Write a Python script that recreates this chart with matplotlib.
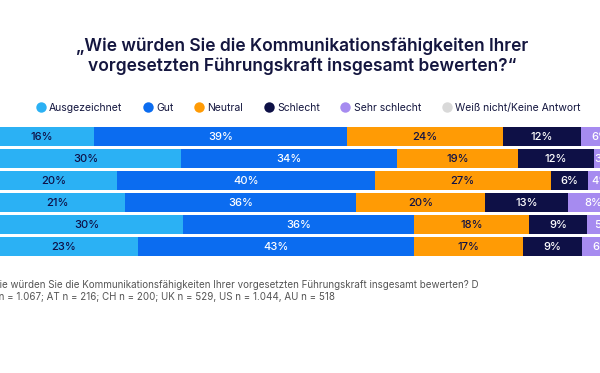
import matplotlib.pyplot as plt
from matplotlib.lines import Line2D

categories = ['Ausgezeichnet', 'Gut', 'Neutral', 'Schlecht', 'Sehr schlecht', 'Weiß nicht/Keine Antwort']
countries = ['DE', 'AT', 'CH', 'UK', 'US', 'AU']
# shares in % (labels show the rounded values)
ausgezeichnet = [16.2, 29.7, 19.8, 21.0, 30.0, 23.0]
gut = [39.3, 33.6, 40.0, 35.9, 35.9, 42.9]
neutral = [24.3, 18.8, 27.4, 20.1, 18.0, 17.0]
schlecht = [12.1, 11.8, 5.8, 12.9, 8.9, 9.2]
sehr_schlecht = [6.0, 3.0, 4.0, 7.8, 5.0, 6.0]
weiss_nicht = [100 - sum(r) for r in zip(ausgezeichnet, gut, neutral, schlecht, sehr_schlecht)]

series = [ausgezeichnet, gut, neutral, schlecht, sehr_schlecht, weiss_nicht]
colors = ['#2bb1f4', '#0b6cf0', '#ff9b05', '#0e1046', '#a68bf0', '#d9d9d9']
text_colors = ['#0e1046', 'white', '#0e1046', 'white', 'white', '#0e1046']

title = '„Wie würden Sie die Kommunikationsfähigkeiten Ihrer\nvorgesetzten Führungskraft insgesamt bewerten?“'
footer = ('Wie würden Sie die Kommunikationsfähigkeiten Ihrer vorgesetzten Führungskraft insgesamt bewerten? D\n'
          'E n = 1.067; AT n = 216; CH n = 200; UK n = 529, US n = 1.044, AU n = 518')

plt.rcParams['font.family'] = ['Inter', 'DejaVu Sans']

fig = plt.figure(figsize=(6, 3.73), dpi=100)
# plot area runs off both edges of the picture, like the cropped original
ax = fig.add_axes([-10 / 600, 1 - 257.5 / 373, 643 / 600, 132 / 373])

y = list(range(len(countries)))
left = [0] * len(countries)
for vals, col, tcol in zip(series, colors, text_colors):
    bars = ax.barh(y, vals, left=left, height=0.89, color=col, edgecolor='none')
    for b, v in zip(bars, vals):
        if v >= 2.5:
            ax.text(b.get_x() + b.get_width() / 2, b.get_y() + b.get_height() / 2, f'{v:.0f}%',
                    ha='center', va='center', color=tcol, fontsize=8, fontweight='medium')
    left = [l + v for l, v in zip(left, vals)]

ax.set_xlim(0, 100)
ax.set_ylim(len(countries) - 0.5, -0.5)
ax.axis('off')

fig.text(0.503, 1 - 56 / 373, title, ha='center', va='center', fontsize=12.5,
         fontweight='semibold', color='#14163f', linespacing=1.2)

handles = [Line2D([], [], marker='o', linestyle='none', markersize=7.5, markerfacecolor=c,
                  markeredgecolor='none') for c in colors]
fig.legend(handles, categories, loc='center', bbox_to_anchor=(308 / 600, 1 - 108 / 373), ncol=6,
           frameon=False, fontsize=7.5, handletextpad=0.3, columnspacing=1.95, handlelength=1.0,
           labelcolor='#14163f')

fig.text(-10 / 600, 1 - 291 / 373, footer, ha='left', va='center', fontsize=7.05,
         color='#555555', linespacing=1.3)

fig.savefig('out.png', dpi=100)
